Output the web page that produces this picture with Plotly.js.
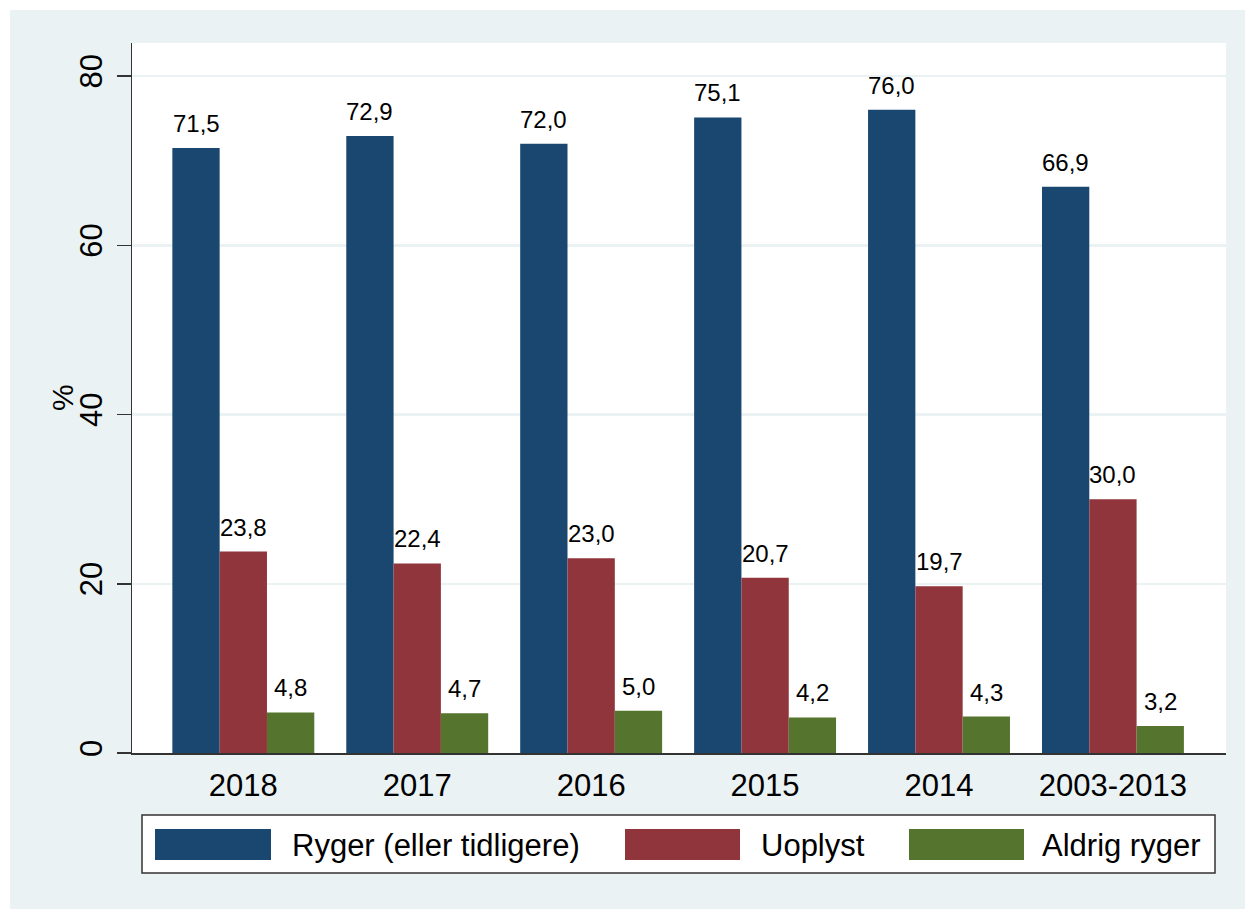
<!DOCTYPE html>
<html>
<head>
<meta charset="utf-8">
<script src="https://cdn.plot.ly/plotly-3.0.1.min.js"></script>
<style>
  html, body { margin: 0; padding: 0; background: #ffffff; }
  #chart { position: absolute; left: 10px; top: 10px; width: 1235px; height: 899px; }
</style>
</head>
<body>
<div id="chart"></div>
<script>
// ---- data ----
const categories = ["2018", "2017", "2016", "2015", "2014", "2003-2013"];
const seriesNames = ["Ryger (eller tidligere)", "Uoplyst", "Aldrig ryger"];
const ryger   = [71.5, 72.9, 72.0, 75.1, 76.0, 66.9];
const uoplyst = [23.8, 22.4, 23.0, 20.7, 19.7, 30.0];
const aldrig  = [4.8, 4.7, 5.0, 4.2, 4.3, 3.2];
const seriesValues = [ryger, uoplyst, aldrig];
const colors = ["#1A476F", "#90353B", "#55752F"];
const yTicks = [0, 20, 40, 60, 80];
const yTitle = "%";

// ---- layout geometry ----
const W = 1235, H = 899;
const margin = {l: 122, r: 19, t: 33, b: 156};
const plotW = W - margin.l - margin.r;
const plotH = H - margin.t - margin.b;
const xRange = [-0.64, categories.length - 1 + 0.65];
const bargap = 0.184;
const font = "Liberation Sans, Arial, Helvetica, sans-serif";

// pixel (page) -> paper helpers (page offset 10px)
const px = x => (x - 10 - margin.l) / plotW;
const py = y => 1 - (y - 10 - margin.t) / plotH;

const fmt = v => v.toFixed(1).replace(".", ",");

const traces = seriesValues.map((vals, k) => ({
  type: "bar",
  x: categories,
  y: vals,
  name: seriesNames[k],
  marker: {color: colors[k], line: {width: 0}},
  hoverinfo: "skip",
  showlegend: false
}));

// value labels above bars
const catPx = plotW / (xRange[1] - xRange[0]);
const barPx = catPx * (1 - bargap) / seriesValues.length;
const annotations = [];
seriesValues.forEach((vals, k) => {
  vals.forEach((v, i) => {
    annotations.push({
      x: i, y: v, xref: "x", yref: "y",
      text: fmt(v), showarrow: false,
      xanchor: "center", yanchor: "bottom",
      xshift: (k - (seriesValues.length - 1) / 2) * barPx,
      yshift: 9,
      font: {family: font, size: 24, color: "#000000"}
    });
  });
});

// y-axis title (placed like Stata, close to the tick labels)
annotations.push({
  xref: "paper", yref: "paper", x: px(62), y: 0.5,
  xanchor: "center", yanchor: "middle", showarrow: false,
  textangle: -90, text: yTitle,
  font: {family: font, size: 30, color: "#000000"}
});

// custom legend (Stata style)
const legendBox = {x0: 142, x1: 1215, y0: 815, y1: 873};
const legendRects = [[155, 271], [625, 740], [909, 1024]];
const legendTextX = [290, 759, 1040];
const shapes = [{
  type: "rect", xref: "paper", yref: "paper",
  x0: px(legendBox.x0), x1: px(legendBox.x1), y0: py(legendBox.y0), y1: py(legendBox.y1),
  fillcolor: "#ffffff", line: {color: "#333333", width: 1.5}, layer: "above"
}];
seriesNames.forEach((name, k) => {
  shapes.push({
    type: "rect", xref: "paper", yref: "paper",
    x0: px(legendRects[k][0]), x1: px(legendRects[k][1]), y0: py(829), y1: py(860),
    fillcolor: colors[k], line: {width: 0}, layer: "above"
  });
  annotations.push({
    xref: "paper", yref: "paper", x: px(legendTextX[k]), y: py(845),
    xanchor: "left", yanchor: "middle", showarrow: false,
    text: name, font: {family: font, size: 31, color: "#000000"}
  });
});

const layout = {
  width: W, height: H,
  margin: margin,
  paper_bgcolor: "#EAF2F3",
  plot_bgcolor: "#ffffff",
  barmode: "group",
  bargap: bargap,
  bargroupgap: 0,
  showlegend: false,
  font: {family: font, color: "#000000"},
  xaxis: {
    type: "category",
    range: xRange,
    showgrid: false,
    showline: true, linecolor: "#333333", linewidth: 1.5,
    ticks: "",
    ticklabelstandoff: 4,
    tickfont: {family: font, size: 31, color: "#000000"},
    zeroline: false
  },
  yaxis: {
    range: [0, 83.9],
    tickvals: yTicks,
    ticktext: yTicks.map(String),
    tickangle: -90,
    ticks: "outside", ticklen: 14, tickwidth: 1.5, tickcolor: "#333333",
    ticklabelstandoff: 2,
    tickfont: {family: font, size: 31, color: "#000000"},
    showline: true, linecolor: "#333333", linewidth: 1.5,
    showgrid: true, gridcolor: "#EAF2F3", gridwidth: 2.5,
    zeroline: false
  },
  annotations: annotations,
  shapes: shapes
};

Plotly.newPlot("chart", traces, layout, {staticPlot: true, displayModeBar: false});
</script>
</body>
</html>
